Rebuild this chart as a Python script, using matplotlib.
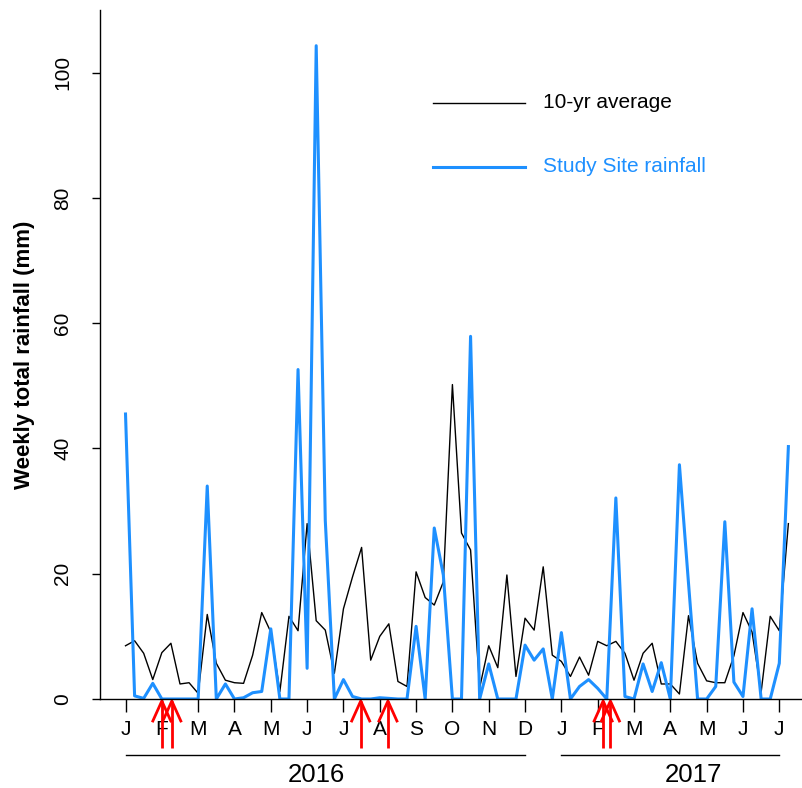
import matplotlib

matplotlib.use("Agg")

import numpy as np
from matplotlib import pyplot as plt
from matplotlib.transforms import blended_transform_factory

plt.rcParams["font.family"] = ["Liberation Sans", "DejaVu Sans"]

# weekly totals (mm), Jan 2016 - Jun 2017
avg_rain = [
    8.5, 9.3, 7.3, 3.1, 7.4, 8.9, 2.4, 2.6, 0.9, 13.5,
    5.7, 3.0, 2.6, 2.5, 7.0, 13.8, 10.7, 1.2, 13.2, 10.9,
    28.0, 12.5, 11.0, 4.1, 14.4, 19.5, 24.2, 6.2, 10.0, 12.0,
    2.8, 2.0, 20.3, 16.2, 15.0, 18.7, 50.2, 26.5, 23.8, 1.8,
    8.5, 5.0, 19.8, 3.6, 12.9, 11.0, 21.1, 7.0, 6.0, 3.6,
    6.7, 3.8, 9.2, 8.5, 9.2, 7.3, 3.0, 7.3, 8.9, 2.4,
    2.4, 0.8, 13.3, 5.7, 2.9, 2.6, 2.6, 6.9, 13.8, 10.7,
    1.1, 13.2, 10.9, 28.0,
]
site_rain = [
    45.5, 0.5, 0.1, 2.5, 0, 0, 0, 0, 0, 34.0,
    0, 2.4, 0, 0.2, 1.0, 1.2, 11.2, 0, 0, 52.6,
    4.9, 104.3, 28.5, 0, 3.1, 0.4, 0, 0, 0.2, 0.1,
    0, 0, 11.6, 0, 27.3, 19.8, 0, 0, 57.9, 0,
    5.6, 0, 0, 0, 8.6, 6.2, 8.0, 0, 10.6, 0,
    2.0, 3.1, 1.7, 0, 32.1, 0.4, 0, 5.6, 1.2, 5.8,
    0, 37.4, 18.5, 0, 0, 2.0, 28.3, 2.7, 0.4, 14.4,
    0, 0, 5.7, 40.3,
]
month_labels = ["J", "F", "M", "A", "M", "J", "J", "A", "S", "O",
                "N", "D", "J", "F", "M", "A", "M", "J", "J"]
month_ticks = list(range(0, 73, 4))
arrow_weeks = [4.0, 5.1, 25.9, 28.9, 52.6, 53.4]
year_labels = ["2016", "2017"]
year_spans = [(0, 44), (48, 72)]
year_label_pos = [21.0, 62.5]

W, H = 802, 788
BLUE = "#1E90FF"


def fy(py):
    return 1 - py / H


fig = plt.figure(figsize=(W / 100, H / 100), dpi=100)
ax = fig.add_axes([100 / W, (H - 699) / H, (W - 100) / W, 689 / H])

weeks = np.arange(len(avg_rain))
ax.plot(weeks, avg_rain, color="black", linewidth=1.0)
ax.plot(weeks, site_rain, color=BLUE, linewidth=2.2)

ax.set_xlim(-2.81, 74.5)
ax.set_ylim(0, 110)
for side in ("top", "right"):
    ax.spines[side].set_visible(False)
for side in ("left", "bottom"):
    ax.spines[side].set_linewidth(1.0)

ax.set_xticks(month_ticks)
ax.set_xticklabels(month_labels, fontsize=15)
ax.set_yticks(np.arange(0, 101, 20))
ax.set_yticklabels([str(v) for v in range(0, 101, 20)], fontsize=15,
                   rotation=90, va="center")
ax.tick_params(axis="x", length=9, width=1, pad=6)
ax.tick_params(axis="y", length=6, width=1, pad=14)
ax.set_ylabel("Weekly total rainfall (mm)", fontsize=16, fontweight="bold",
              labelpad=13)

# legend drawn by hand
ax.plot([433 / W, 525 / W], [fy(103)] * 2, transform=fig.transFigure,
        color="black", linewidth=1.0, clip_on=False)
fig.text(543 / W, fy(103), "10-yr average", fontsize=15, va="center")
ax.plot([433 / W, 525 / W], [fy(167)] * 2, transform=fig.transFigure,
        color=BLUE, linewidth=2.2, clip_on=False)
fig.text(543 / W, fy(167), "Study Site rainfall", fontsize=15, va="center",
         color=BLUE)

trans = blended_transform_factory(ax.transData, fig.transFigure)

# red arrows under the axis
head_dx = 9 / 9.08
for wk in arrow_weeks:
    ax.plot([wk, wk], [fy(748), fy(701)], transform=trans, color="red",
            linewidth=2.0, clip_on=False, solid_capstyle="butt")
    ax.plot([wk - head_dx, wk, wk + head_dx], [fy(721), fy(701), fy(721)],
            transform=trans, color="red", linewidth=2.0, clip_on=False)

# year bars
for label, (start, end), xpos in zip(year_labels, year_spans, year_label_pos):
    ax.plot([start, end], [fy(755)] * 2, transform=trans, color="black",
            linewidth=1.0, clip_on=False)
    ax.text(xpos, fy(775), label, transform=trans, fontsize=18.5,
            ha="center", va="center")

fig.savefig("out.png", dpi=100)
